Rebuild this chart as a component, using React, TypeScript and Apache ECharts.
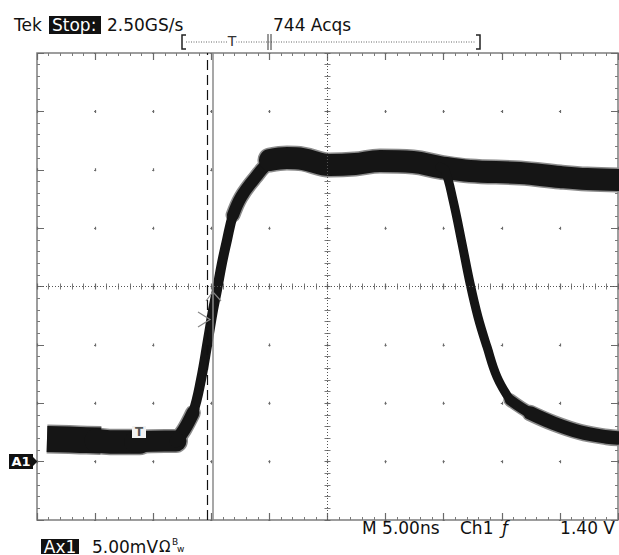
import React, { useEffect, useRef } from "react";
import * as echarts from "echarts";

// Time in ns relative to screen centre (5 ns/div), amplitude in mV relative to screen centre (5 mV/div)
const X_MIN = -25;
const X_MAX = 25;
const Y_MIN = -20;
const Y_MAX = 20;

// Baseline (low level) before the edge
const lowAT = [-24.14, -21.3, -19.5];
const lowAV = [-13.06, -13.14, -13.2];
const lowMT = [-19.9, -18.72, -16.14];
const lowMV = [-13.2, -13.31, -13.31];
const lowBT = [-16.6, -13.99, -13.04];
const lowBV = [-13.31, -13.23, -13.23];

// Rising edge
const footT = [-13.04, -12.35, -11.58];
const footV = [-13.23, -12.29, -10.83];
const riseT = [-12.35, -11.58, -10.89, -10.29, -9.85, -9.51, -9.08, -8.65, -8.13, -7.44];
const riseV = [-12.29, -10.83, -8.01, -4.59, -2.01, -0.3, 2.01, 3.98, 6.12, 7.66];
const kneeT = [-8.13, -7.44, -6.24, -4.95, -3.49];
const kneeV = [6.12, 7.66, 9.29, 10.66, 11.0];

// High level (acquisitions that stay high)
const highT = [-4.95, -3.49, -2.11, 0.22, 2.37, 4.52, 7.36, 9.68, 12.26, 16.57, 20.01, 22.33, 25.0];
const highV = [10.83, 11.0, 10.92, 10.4, 10.49, 10.75, 10.66, 10.23, 9.89, 9.72, 9.38, 9.2, 9.12];

// Falling edge (acquisitions that return low)
const fallT = [9.68, 10.11, 10.8, 11.57, 12.26, 12.95, 13.73, 14.59, 15.71];
const fallV = [10.23, 9.97, 7.41, 3.72, 0.3, -2.61, -5.18, -7.75, -9.72];
const tail1T = [15.71, 17.43, 19.41];
const tail1V = [-9.72, -10.83, -11.69];
const tail2T = [17.43, 19.41, 21.73, 24.06, 25.0];
const tail2V = [-10.83, -11.69, -12.46, -12.89, -12.97];

// Cursor / trigger positions (ns)
const cursorDashedT = -10.37;
const triggerT = -9.85;

const zip = (t: number[], v: number[]) => t.map((x, i) => [x, v[i]]);

// converts a list of "ink" intervals along a line into a dash array
function dashFrom(intervals: number[][], total: number) {
  const out: number[] = [];
  let pos = 0;
  intervals.forEach(([a, b], i) => {
    if (i === 0) {
      if (a > 0) out.push(0, a);
    } else {
      out.push(Math.max(0, a - pos));
    }
    out.push(b - a);
    pos = b;
  });
  out.push(total - pos + 2000);
  return out;
}

const FONT = "DejaVu Sans";

export default function App() {
  const ref = useRef<HTMLDivElement>(null);
  useEffect(() => {
    if (!ref.current) return;
    const chart = echarts.init(ref.current, undefined, { renderer: "svg" });

    const trace = (name: string, t: number[], v: number[], width: number, cap: string, fringe: boolean) => {
      const out: any[] = [];
      if (fringe) {
        out.push({
          name: name + "-edge",
          type: "line",
          data: zip(t, v),
          showSymbol: false,
          smooth: 0.4,
          silent: true,
          lineStyle: { color: "#8c8c8c", width: width + 3, cap, join: "round" },
          z: 2,
        });
      }
      out.push({
        name,
        type: "line",
        data: zip(t, v),
        showSymbol: false,
        smooth: 0.4,
        silent: true,
        lineStyle: { color: "#151515", width, cap, join: "round" },
        z: 3,
      });
      return out;
    };

    const gridLeft = 37;
    const gridTop = 53;
    const W = 581;
    const H = 467;
    const dW = W / 10;
    const dH = H / 8;

    // vertical major lines: border ticks, intersection dots, centre ticks
    const vMajor: number[][] = [[0, 7]];
    for (let k = 1; k < 8; k++) {
      if (k === 4) vMajor.push([H / 2 - 3, H / 2 + 3]);
      else vMajor.push([k * dH - 1.5, k * dH + 1.5]);
    }
    vMajor.push([H - 7, H]);
    const vMinor = [[0, 3], [H / 2 - 3, H / 2 + 3], [H - 3, H]];
    const hMajor: number[][] = [[0, 7]];
    for (let k = 1; k < 10; k++) {
      if (k === 5) hMajor.push([W / 2 - 3, W / 2 + 3]);
      else hMajor.push([k * dW - 1, k * dW + 1]);
    }
    hMajor.push([W - 7, W]);
    const hMinor = [[0, 3], [W / 2 - 3, W / 2 + 3], [W - 3, W]];

    const option: any = {
      animation: false,
      backgroundColor: "#ffffff",
      grid: {
        left: gridLeft,
        top: gridTop,
        width: W,
        height: H,
        show: true,
        borderColor: "#7d7d7d",
        borderWidth: 1.5,
        backgroundColor: "transparent",
        outerBoundsMode: "none",
        containLabel: false,
      },
      xAxis: {
        type: "value",
        min: X_MIN,
        max: X_MAX,
        interval: 5,
        axisLine: { show: false },
        axisTick: { show: false },
        axisLabel: { show: false },
        minorTick: { show: false, splitNumber: 5 },
        splitLine: { show: true, lineStyle: { color: "#6a6a6a", width: 1.2, type: dashFrom(vMajor, H) } },
        minorSplitLine: { show: true, lineStyle: { color: "#7a7a7a", width: 1, type: dashFrom(vMinor, H) } },
      },
      yAxis: {
        type: "value",
        min: Y_MIN,
        max: Y_MAX,
        interval: 5,
        axisLine: { show: false },
        axisTick: { show: false },
        axisLabel: { show: false },
        minorTick: { show: false, splitNumber: 5 },
        splitLine: { show: true, lineStyle: { color: "#6a6a6a", width: 1.2, type: dashFrom(hMajor, W) } },
        minorSplitLine: { show: true, lineStyle: { color: "#7a7a7a", width: 1, type: dashFrom(hMinor, W) } },
      },
      series: [
        {
          name: "cursors",
          type: "line",
          data: [],
          silent: true,
          markLine: {
            silent: true,
            symbol: ["none", "none"],
            label: { show: false },
            data: [
              { xAxis: 0, lineStyle: { color: "#555", width: 1, type: [1, 2] } },
              { yAxis: 0, lineStyle: { color: "#555", width: 1, type: [1, 2] } },
              { xAxis: cursorDashedT, lineStyle: { color: "#111", width: 1.2, type: [10, 5] } },
              { xAxis: triggerT, lineStyle: { color: "#8a8a8a", width: 1.5, type: "solid" } },
            ],
          },
          z: 1,
        },
        ...trace("lowA", lowAT, lowAV, 26, "butt", true),
        ...trace("lowM", lowMT, lowMV, 23.5, "round", true),
        ...trace("lowB", lowBT, lowBV, 21, "round", true),
        ...trace("foot", footT, footV, 13, "round", true),
        ...trace("rise", riseT, riseV, 10, "round", false),
        ...trace("knee", kneeT, kneeV, 12, "round", true),
        ...trace("high", highT, highV, 22, "round", true),
        ...trace("fall", fallT, fallV, 9, "round", false),
        ...trace("tail1", tail1T, tail1V, 10.5, "round", true),
        ...trace("tail2", tail2T, tail2V, 13.5, "round", true),
      ],
      graphic: [
        // header
        { type: "text", x: 14, y: 25, style: { text: "Tek", font: `17px '${FONT}'`, fill: "#111", verticalAlign: "middle" } },
        { type: "rect", shape: { x: 49, y: 16, width: 52, height: 18 }, style: { fill: "#111" } },
        { type: "text", x: 52, y: 25, style: { text: "Stop:", font: `17px '${FONT}'`, fill: "#fff", verticalAlign: "middle" } },
        { type: "text", x: 107, y: 25, style: { text: "2.50GS/s", font: `17px '${FONT}'`, fill: "#111", verticalAlign: "middle" } },
        { type: "text", x: 273, y: 25, style: { text: "744 Acqs", font: `17px '${FONT}'`, fill: "#111", verticalAlign: "middle" } },
        // record bracket
        { type: "line", shape: { x1: 186, y1: 42, x2: 476, y2: 42 }, style: { stroke: "#666", lineWidth: 1, lineDash: [1, 1.5] } },
        { type: "polyline", shape: { points: [[186, 35], [182, 35], [182, 49], [186, 49]] }, style: { stroke: "#222", lineWidth: 1.5, fill: "none" } },
        { type: "polyline", shape: { points: [[476, 35], [480, 35], [480, 49], [476, 49]] }, style: { stroke: "#222", lineWidth: 1.5, fill: "none" } },
        { type: "line", shape: { x1: 268, y1: 34, x2: 268, y2: 50 }, style: { stroke: "#333", lineWidth: 1 } },
        { type: "line", shape: { x1: 271, y1: 34, x2: 271, y2: 50 }, style: { stroke: "#333", lineWidth: 1 } },
        { type: "text", x: 232, y: 41, style: { text: "T", font: `14px '${FONT}'`, fill: "#333", align: "center", verticalAlign: "middle", backgroundColor: "#fff" } },
        // channel ground marker
        { type: "rect", shape: { x: 9, y: 454, width: 24, height: 15 }, style: { fill: "#111" } },
        { type: "text", x: 21, y: 461.5, style: { text: "A1", font: `bold 13px '${FONT}'`, fill: "#fff", align: "center", verticalAlign: "middle" } },
        { type: "polygon", shape: { points: [[33, 457], [37.5, 461.5], [33, 466]] }, style: { fill: "#111" } },
        // trigger marker inside baseline
        { type: "rect", shape: { x: 132, y: 426, width: 14, height: 12 }, style: { fill: "#f2f2f2" }, z: 10 },
        { type: "text", x: 139, y: 432, style: { text: "T", font: `bold 12px '${FONT}'`, fill: "#555", align: "center", verticalAlign: "middle" }, z: 11 },
        // trigger level arrows
        { type: "polyline", shape: { points: [[198, 312], [210, 319.5], [198, 327]] }, style: { stroke: "#888", lineWidth: 1.2, fill: "none" }, z: 10 },
        { type: "polyline", shape: { points: [[206, 301], [212, 293], [214, 293], [221, 301]] }, style: { stroke: "#888", lineWidth: 1.2, fill: "none" }, z: 10 },
        // bottom status line
        { type: "text", x: 362, y: 528, style: { text: "M 5.00ns", font: `17px '${FONT}'`, fill: "#111", verticalAlign: "middle" } },
        { type: "text", x: 460, y: 528, style: { text: "Ch1", font: `17px '${FONT}'`, fill: "#111", verticalAlign: "middle" } },
        { type: "text", x: 502, y: 528, style: { text: "ƒ", font: `italic 17px '${FONT}'`, fill: "#111", verticalAlign: "middle" } },
        { type: "text", x: 615, y: 528, style: { text: "1.40 V", font: `17px '${FONT}'`, fill: "#111", align: "right", verticalAlign: "middle" } },
        { type: "rect", shape: { x: 41, y: 539, width: 38, height: 15 }, style: { fill: "#111" } },
        { type: "text", x: 60, y: 546.5, style: { text: "Ax1", font: `17px '${FONT}'`, fill: "#fff", align: "center", verticalAlign: "middle" } },
        { type: "text", x: 92, y: 546.5, style: { text: "5.00mV", font: `17px '${FONT}'`, fill: "#111", verticalAlign: "middle" } },
        { type: "text", x: 159, y: 546.5, style: { text: "Ω", font: `15px '${FONT}'`, fill: "#111", verticalAlign: "middle" } },
        { type: "text", x: 172, y: 542, style: { text: "B", font: `9px '${FONT}'`, fill: "#111", verticalAlign: "middle" } },
        { type: "text", x: 177, y: 549, style: { text: "w", font: `9px '${FONT}'`, fill: "#111", verticalAlign: "middle" } },
      ],
    };
    chart.setOption(option);
    return () => chart.dispose();
  }, []);
  return <div ref={ref} style={{ position: "fixed", left: 0, top: 0, width: 619, height: 555 }} />;
}
